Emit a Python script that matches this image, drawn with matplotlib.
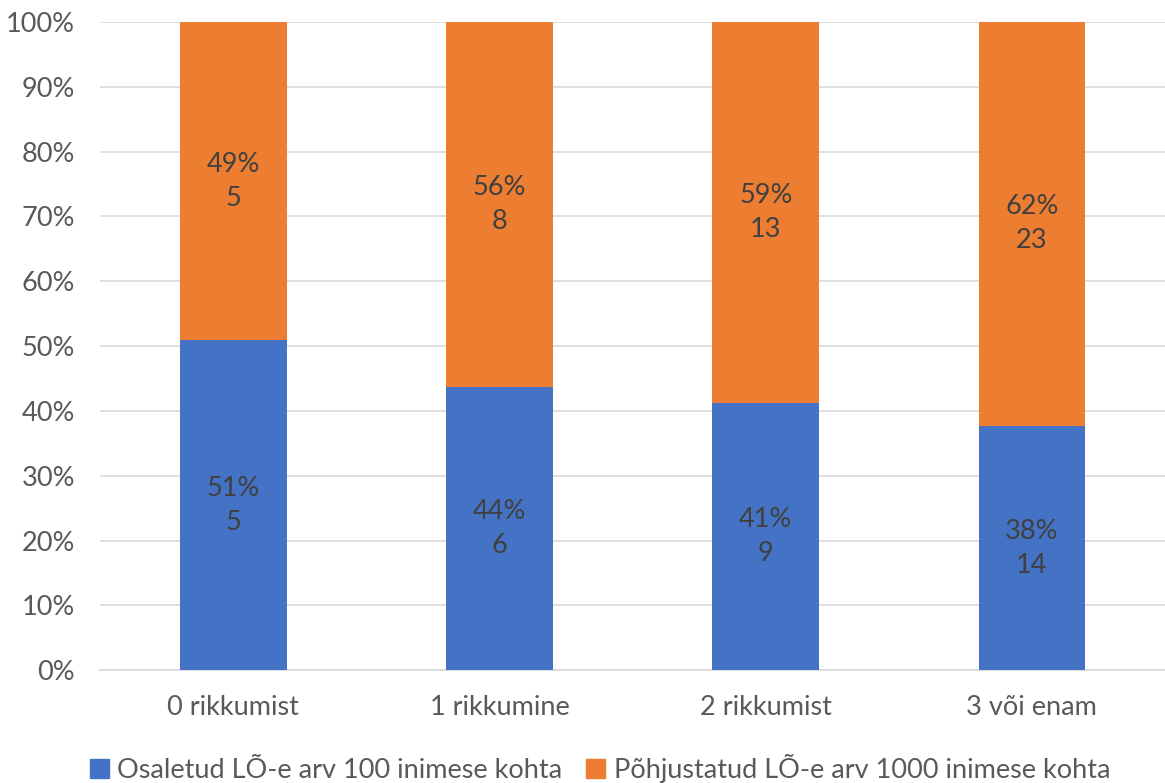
import matplotlib.pyplot as plt
import numpy as np
from matplotlib.patches import Patch

plt.rcParams['font.family'] = ['Lato', 'DejaVu Sans']

categories = ['0 rikkumist', '1 rikkumine', '2 rikkumist', '3 või enam']
osaletud_share = [50.9, 43.7, 41.2, 37.7]
pohjustatud_share = [49.1, 56.3, 58.8, 62.3]
osaletud_value = [5, 6, 9, 14]
pohjustatud_value = [5, 8, 13, 23]
osaletud_label = ['51%', '44%', '41%', '38%']
pohjustatud_label = ['49%', '56%', '59%', '62%']
yticks = np.arange(0, 101, 10)

BLUE = '#4472C4'
ORANGE = '#ED7D31'
GREY = '#595959'
FS = 19.5

fig = plt.figure(figsize=(11.65, 7.83), dpi=100)
ax = fig.add_axes([0.086, 0.144, 0.914, 0.828])

x = np.arange(len(categories))
ax.bar(x, osaletud_share, width=0.4, color=BLUE, zorder=3)
ax.bar(x, pohjustatud_share, width=0.4, bottom=osaletud_share, color=ORANGE, zorder=3)

for i in range(len(categories)):
    yb = osaletud_share[i] / 2
    ax.text(x[i], yb, f'{osaletud_label[i]}\n{osaletud_value[i]}', ha='center', va='center',
            fontsize=FS, color='#404040', linespacing=1.45, zorder=4)
    yo = osaletud_share[i] + pohjustatud_share[i] / 2
    ax.text(x[i], yo, f'{pohjustatud_label[i]}\n{pohjustatud_value[i]}', ha='center', va='center',
            fontsize=FS, color='#404040', linespacing=1.45, zorder=4)

ax.set_xlim(-0.5, len(categories) - 0.5)
ax.set_ylim(0, 100)
ax.set_yticks(yticks)
ax.set_yticklabels([f'{v}%' for v in yticks])
ax.set_xticks(x)
ax.set_xticklabels(categories)
ax.tick_params(axis='both', length=0, labelsize=FS, labelcolor=GREY)
ax.tick_params(axis='x', pad=18)
ax.tick_params(axis='y', pad=18)
ax.grid(axis='y', color='#D9D9D9', linewidth=1.2, zorder=0)
for s in ['top', 'right', 'left']:
    ax.spines[s].set_visible(False)
ax.spines['bottom'].set_color('#D9D9D9')
ax.spines['bottom'].set_linewidth(1.2)

handles = [Patch(color=BLUE, label='Osaletud LÕ-e arv 100 inimese kohta'),
           Patch(color=ORANGE, label='Põhjustatud LÕ-e arv 1000 inimese kohta')]
fig.legend(handles=handles, loc='center', bbox_to_anchor=(0.515, 0.019), ncol=2, frameon=False,
           fontsize=FS, labelcolor=GREY, handlelength=0.7, handleheight=0.7,
           handletextpad=0.3, columnspacing=0.9)

fig.savefig('out.png', dpi=100)
